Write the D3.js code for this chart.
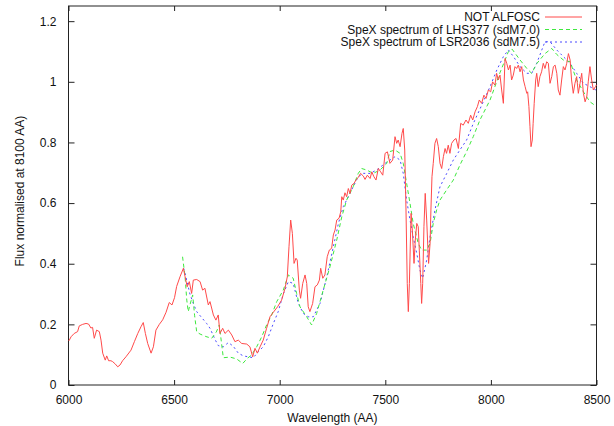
<!DOCTYPE html>
<html>
<head>
<meta charset="utf-8">
<script src="https://cdn.jsdelivr.net/npm/d3@7"></script>
<style>
  body { margin: 0; background: #fff; }
  svg { display: block; font-family: "Liberation Sans", Arial, sans-serif; }
</style>
</head>
<body>
<div class="chart"></div>
<script>
// tick values
const xTicks = [6000, 6500, 7000, 7500, 8000, 8500]
const yTicks = [0, 0.2, 0.4, 0.6, 0.8, 1, 1.2]

const seriesNames = [
  "NOT ALFOSC",
  "SpeX spectrum of LHS377 (sdM7.0)",
  "SpeX spectrum of LSR2036 (sdM7.5)"
]

// [wavelength, normalised flux]
const alfosc = [
  [6000,0.145],[6004,0.148],[6012,0.159],[6027,0.170],[6043,0.176],[6051,0.195],[6067,0.200],[6083,0.203],
  [6095,0.201],[6106,0.188],[6114,0.190],[6122,0.154],[6133,0.181],[6146,0.176],[6154,0.148],[6162,0.105],
  [6174,0.082],[6181,0.096],[6190,0.080],[6201,0.080],[6209,0.077],[6222,0.069],[6233,0.060],[6244,0.066],
  [6256,0.080],[6272,0.093],[6296,0.115],[6312,0.143],[6328,0.170],[6343,0.192],[6354,0.206],[6364,0.170],
  [6375,0.137],[6391,0.105],[6402,0.126],[6414,0.181],[6430,0.200],[6446,0.215],[6462,0.240],[6477,0.272],
  [6490,0.264],[6502,0.288],[6512,0.325],[6528,0.357],[6544,0.385],[6552,0.357],[6562,0.324],[6572,0.341],
  [6583,0.302],[6591,0.346],[6607,0.348],[6623,0.341],[6635,0.313],[6646,0.319],[6662,0.264],[6670,0.275],
  [6686,0.231],[6698,0.214],[6709,0.231],[6717,0.170],[6730,0.187],[6741,0.170],[6757,0.181],[6773,0.165],
  [6788,0.143],[6804,0.148],[6820,0.137],[6844,0.135],[6859,0.126],[6872,0.093],[6883,0.121],[6894,0.105],
  [6907,0.126],[6922,0.148],[6938,0.187],[6954,0.225],[6970,0.240],[6990,0.258],[7009,0.280],[7025,0.318],
  [7036,0.357],[7044,0.456],[7052,0.544],[7060,0.500],[7068,0.401],[7077,0.418],[7083,0.412],[7093,0.313],
  [7099,0.286],[7109,0.335],[7120,0.363],[7128,0.335],[7135,0.258],[7143,0.242],[7156,0.269],[7167,0.324],
  [7178,0.330],[7188,0.346],[7194,0.385],[7204,0.352],[7214,0.363],[7225,0.423],[7235,0.445],[7246,0.451],
  [7254,0.495],[7262,0.511],[7270,0.544],[7281,0.550],[7289,0.571],[7294,0.621],[7301,0.610],[7309,0.634],
  [7317,0.621],[7325,0.648],[7333,0.632],[7341,0.659],[7352,0.665],[7361,0.676],[7372,0.685],[7383,0.698],
  [7396,0.689],[7404,0.678],[7415,0.692],[7428,0.681],[7436,0.703],[7446,0.687],[7456,0.676],[7467,0.714],
  [7478,0.703],[7488,0.692],[7499,0.764],[7510,0.769],[7522,0.731],[7535,0.742],[7546,0.819],[7554,0.797],
  [7561,0.808],[7570,0.786],[7579,0.830],[7585,0.846],[7592,0.775],[7598,0.577],[7604,0.335],[7609,0.242],
  [7614,0.335],[7622,0.566],[7628,0.511],[7636,0.401],[7642,0.478],[7649,0.533],[7656,0.522],[7661,0.445],
  [7668,0.335],[7672,0.269],[7677,0.335],[7683,0.522],[7689,0.632],[7696,0.544],[7702,0.445],[7705,0.401],
  [7712,0.467],[7716,0.577],[7721,0.687],[7727,0.731],[7735,0.797],[7743,0.813],[7751,0.786],[7759,0.731],
  [7767,0.714],[7775,0.753],[7783,0.780],[7790,0.764],[7798,0.791],[7806,0.764],[7814,0.797],[7825,0.808],
  [7835,0.813],[7846,0.780],[7857,0.863],[7869,0.857],[7882,0.874],[7893,0.863],[7904,0.890],[7914,0.874],
  [7925,0.901],[7936,0.918],[7945,0.940],[7956,0.929],[7967,0.956],[7977,0.945],[7988,0.973],[7999,0.967],
  [8008,1.000],[8019,0.989],[8027,1.028],[8035,1.006],[8043,1.022],[8051,0.973],[8059,0.929],[8067,1.077],
  [8075,1.061],[8083,1.039],[8091,1.055],[8098,1.006],[8106,1.022],[8114,1.050],[8122,1.044],[8130,1.055],
  [8138,1.033],[8146,1.050],[8154,1.006],[8162,0.984],[8170,0.962],[8174,0.967],[8180,0.918],[8185,0.852],
  [8190,0.786],[8196,0.808],[8200,0.863],[8205,0.929],[8212,1.006],[8217,1.028],[8224,0.984],[8232,1.017],
  [8240,1.033],[8248,1.061],[8256,1.044],[8264,1.066],[8272,1.061],[8280,0.995],[8288,1.017],[8296,1.050],
  [8304,1.055],[8312,1.028],[8319,0.973],[8327,0.956],[8335,1.006],[8343,1.050],[8351,1.039],[8359,1.061],
  [8367,1.093],[8375,1.072],[8382,1.006],[8390,0.962],[8398,0.995],[8406,1.017],[8414,0.962],[8422,0.995],
  [8430,1.028],[8438,0.962],[8446,0.934],[8454,0.951],[8461,1.000],[8469,1.050],[8477,1.006],[8485,0.973],
  [8495,0.984],[8500,0.990]
]

const lhs377 = [
  [6540,0.423],[6552,0.357],[6560,0.280],[6567,0.242],[6575,0.264],[6588,0.297],[6597,0.230],[6607,0.175],
  [6623,0.168],[6650,0.160],[6678,0.154],[6700,0.175],[6714,0.198],[6733,0.090],[6765,0.092],[6796,0.086],
  [6825,0.071],[6847,0.088],[6867,0.099],[6891,0.126],[6915,0.159],[6938,0.198],[6962,0.231],[6986,0.275],
  [7017,0.313],[7041,0.363],[7064,0.352],[7080,0.302],[7096,0.258],[7128,0.225],[7151,0.198],[7175,0.236],
  [7206,0.313],[7238,0.390],[7270,0.478],[7294,0.555],[7317,0.610],[7348,0.654],[7372,0.698],[7388,0.714],
  [7412,0.709],[7443,0.698],[7475,0.709],[7507,0.731],[7522,0.770],[7546,0.775],[7570,0.764],[7585,0.731],
  [7601,0.665],[7617,0.599],[7632,0.533],[7656,0.467],[7672,0.445],[7696,0.445],[7712,0.467],[7727,0.533],
  [7743,0.577],[7759,0.610],[7790,0.643],[7822,0.676],[7853,0.725],[7885,0.770],[7917,0.820],[7948,0.874],
  [7996,0.940],[8043,1.030],[8083,1.100],[8100,1.108],[8138,1.072],[8170,1.044],[8193,1.028],[8217,1.060],
  [8256,1.093],[8288,1.110],[8312,1.090],[8343,1.072],[8375,1.066],[8406,1.006],[8438,0.967],[8469,0.934],
  [8497,0.920]
]

const lsr2036 = [
  [6545,0.385],[6552,0.368],[6575,0.300],[6591,0.269],[6607,0.242],[6631,0.222],[6654,0.203],[6670,0.187],
  [6694,0.150],[6709,0.130],[6733,0.126],[6757,0.140],[6780,0.128],[6804,0.105],[6828,0.096],[6851,0.093],
  [6875,0.090],[6899,0.110],[6922,0.126],[6946,0.159],[6970,0.203],[6993,0.242],[7017,0.300],[7041,0.341],
  [7064,0.335],[7088,0.269],[7112,0.236],[7135,0.225],[7159,0.225],[7191,0.269],[7223,0.357],[7254,0.456],
  [7278,0.533],[7301,0.588],[7325,0.621],[7348,0.654],[7372,0.687],[7396,0.698],[7428,0.698],[7459,0.709],
  [7499,0.731],[7546,0.753],[7570,0.742],[7585,0.698],[7601,0.610],[7617,0.544],[7632,0.489],[7649,0.434],
  [7664,0.379],[7677,0.352],[7696,0.412],[7712,0.489],[7735,0.577],[7759,0.654],[7791,0.698],[7822,0.742],
  [7853,0.775],[7885,0.808],[7917,0.863],[7948,0.910],[7996,0.984],[8028,1.039],[8059,1.083],[8083,1.105],
  [8107,1.083],[8138,1.050],[8170,1.028],[8193,1.028],[8217,1.061],[8241,1.105],[8256,1.132],[8280,1.132],
  [8312,1.105],[8343,1.083],[8375,1.061],[8406,1.028],[8438,0.995],[8469,0.984],[8497,0.973]
]

const W = 614, H = 426
const padL = 68.5, padR = 596.5, padT = 6, padB = 385

const x = d3.scaleLinear().domain([6000, 8500]).range([padL, padR])
const y = d3.scaleLinear().domain([0, 1.25]).range([padB, padT])

const svg = d3.select(".chart").append("svg").attr("width", W).attr("height", H)

// axes (gnuplot style: inward ticks, mirrored)
const ax = "#222"
svg.append("g").attr("transform", `translate(0,${padB})`)
  .call(d3.axisBottom(x).tickValues(xTicks).tickSize(-5).tickPadding(10).tickFormat(d3.format("d")))
  .call(g => g.select(".domain").remove())
svg.append("g").attr("transform", `translate(0,${padT})`)
  .call(d3.axisTop(x).tickValues(xTicks).tickSize(-5).tickFormat(""))
  .call(g => g.select(".domain").remove())
svg.append("g").attr("transform", `translate(${padL},0)`)
  .call(d3.axisLeft(y).tickValues(yTicks).tickSize(-6).tickPadding(12).tickFormat(d => d3.format("~g")(d)))
  .call(g => g.select(".domain").remove())
svg.append("g").attr("transform", `translate(${padR},0)`)
  .call(d3.axisRight(y).tickValues(yTicks).tickSize(-6).tickFormat(""))
  .call(g => g.select(".domain").remove())

svg.selectAll(".tick line").attr("stroke", ax)
svg.selectAll(".tick text").attr("font-size", 12).attr("fill", "#111")
  .attr("font-family", "Liberation Sans, Arial, sans-serif")

svg.append("rect")
  .attr("x", padL).attr("y", padT).attr("width", padR - padL).attr("height", padB - padT)
  .attr("fill", "none").attr("stroke", ax).attr("stroke-width", 1)

// axis titles
svg.append("text").attr("x", (padL + padR) / 2).attr("y", 422)
  .attr("text-anchor", "middle").attr("font-size", 12).attr("fill", "#111")
  .text("Wavelength (AA)")
svg.append("text").attr("transform", "translate(24,191) rotate(-90)")
  .attr("text-anchor", "middle").attr("font-size", 12).attr("fill", "#111")
  .text("Flux normalised at 8100 AA)")

const line = d3.line().x(d => x(d[0])).y(d => y(d[1]))

const styles = [
  { data: alfosc, color: "#ff4a4a", dash: null, width: 1 },
  { data: lhs377, color: "#3ee83e", dash: "4,3", width: 1 },
  { data: lsr2036, color: "#4a4aff", dash: "2,3", width: 1 }
]

const plot = svg.append("g")
plot.selectAll("path")
  .data(styles.slice().reverse())
  .enter()
  .append("path")
  .attr("d", d => line(d.data))
  .attr("fill", "none")
  .attr("stroke", d => d.color)
  .attr("stroke-width", d => d.width)
  .attr("stroke-dasharray", d => d.dash)

// legend
const legend = svg.append("g")
const rowY = [17, 29.5, 42]
styles.forEach((s, i) => {
  legend.append("text")
    .attr("x", 540).attr("y", rowY[i] + 4)
    .attr("text-anchor", "end").attr("font-size", 12).attr("fill", "#111")
    .text(seriesNames[i])
  legend.append("line")
    .attr("x1", 545).attr("x2", 582).attr("y1", rowY[i]).attr("y2", rowY[i])
    .attr("stroke", s.color).attr("stroke-width", s.width)
    .attr("stroke-dasharray", s.dash)
})
</script>
</body>
</html>
